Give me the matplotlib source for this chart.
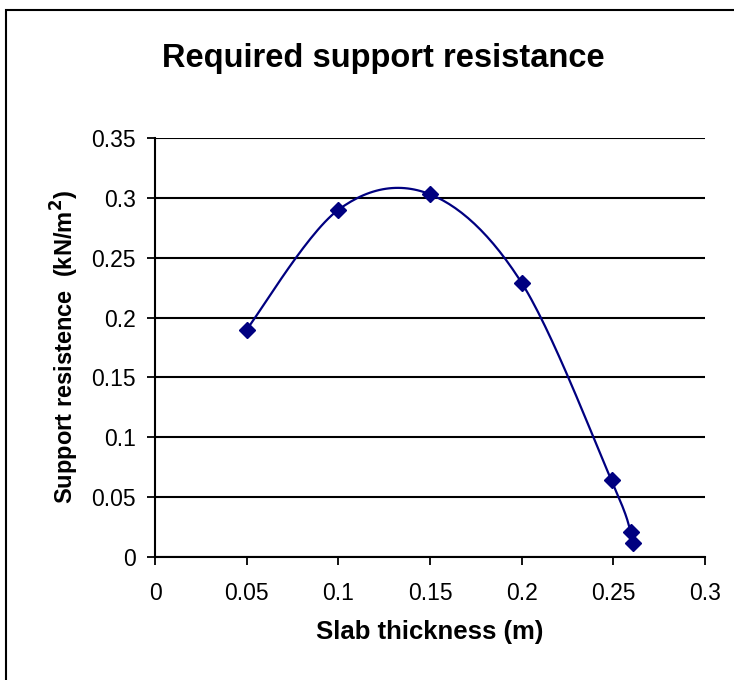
import matplotlib.pyplot as plt
import numpy as np
from matplotlib.patches import Rectangle

plt.rcParams['font.family'] = ['Liberation Sans', 'DejaVu Sans']

thickness = [0.05, 0.10, 0.15, 0.20, 0.249, 0.2595, 0.2605]
resistance = [0.190, 0.290, 0.303, 0.229, 0.064, 0.021, 0.012]
x_ticks = [0, 0.05, 0.1, 0.15, 0.2, 0.25, 0.3]
y_ticks = [0, 0.05, 0.1, 0.15, 0.2, 0.25, 0.3, 0.35]


def smooth_curve(xs, ys, n=30):
    # Excel-style smoothed line: cubic Bezier with Catmull-Rom control points
    pts = np.column_stack([xs, ys])
    out = []
    for i in range(len(pts) - 1):
        p0 = pts[i - 1] if i > 0 else pts[i]
        p1 = pts[i]
        p2 = pts[i + 1]
        p3 = pts[i + 2] if i + 2 < len(pts) else pts[i + 1]
        c1 = p1 + (p2 - p0) / 6
        c2 = p2 - (p3 - p1) / 6
        t = np.linspace(0, 1, n)[:, None]
        seg = ((1 - t) ** 3) * p1 + 3 * ((1 - t) ** 2) * t * c1 + 3 * (1 - t) * t ** 2 * c2 + t ** 3 * p2
        out.append(seg)
    out = np.vstack(out)
    return out[:, 0], out[:, 1]


fig = plt.figure(figsize=(7.34, 6.8), dpi=100)
fig.patches.append(Rectangle((6 / 734, -0.1), 1.2, 1 - 10 / 680 + 0.1, transform=fig.transFigure,
                             fill=False, edgecolor='black', linewidth=1.5))
ax = fig.add_axes([155 / 734, 1 - 557 / 680, 550 / 734, 419 / 680])

sx, sy = smooth_curve(thickness, resistance)
ax.plot(sx, sy, color='#000080', linewidth=1.6, zorder=3)
ax.plot(thickness, resistance, linestyle='none', marker='D', markersize=8.5,
        color='#000080', zorder=4)

ax.set_xlim(0, 0.3)
ax.set_ylim(0, 0.35)
ax.set_xticks(x_ticks)
ax.set_xticklabels(['0', '0.05', '0.1', '0.15', '0.2', '0.25', '0.3'])
ax.set_yticks(y_ticks)
ax.set_yticklabels(['0', '0.05', '0.1', '0.15', '0.2', '0.25', '0.3', '0.35'])
ax.tick_params(labelsize=16.5, direction='out', length=6, width=1.3)
ax.tick_params(axis='y', pad=8)
ax.tick_params(axis='x', pad=12)
ax.yaxis.grid(True, color='black', linewidth=1.5)
ax.set_axisbelow(True)
for s in ['top', 'right']:
    ax.spines[s].set_visible(False)
for s in ['left', 'bottom']:
    ax.spines[s].set_linewidth(1.5)

ax.set_xlabel('Slab thickness (m)', fontsize=18.5, fontweight='bold', labelpad=11)
ax.set_ylabel('Support resistence  (kN/m$^\\mathbf{2}$)', fontsize=17, fontweight='bold', labelpad=7)
fig.text(383 / 734, 1 - 67 / 680, 'Required support resistance', fontsize=23.5,
         fontweight='bold', ha='center', va='baseline')

fig.savefig('out.png', dpi=100)
